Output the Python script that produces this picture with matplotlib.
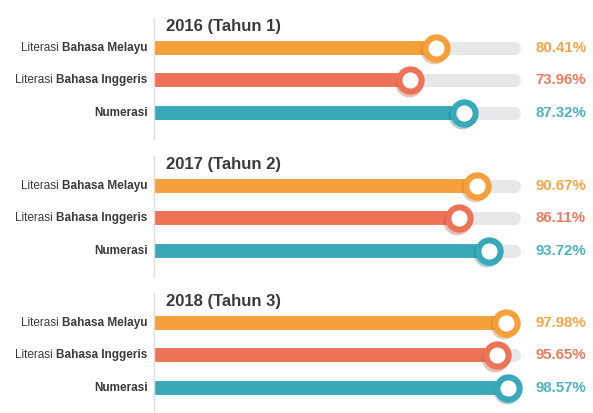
import matplotlib
matplotlib.use('Agg')
import matplotlib.pyplot as plt
import matplotlib.transforms as mtransforms

plt.rcParams["font.family"] = ["Liberation Sans", "DejaVu Sans"]

# 数据
years = ["2016 (Tahun 1)", "2017 (Tahun 2)", "2018 (Tahun 3)"]
label_prefix = ["Literasi", "Literasi", ""]
label_bold = ["Bahasa Melayu", "Bahasa Inggeris", "Numerasi"]
melayu = [80.41, 90.67, 97.98]
inggeris = [73.96, 86.11, 95.65]
numerasi = [87.32, 93.72, 98.57]

bar_colors = ["#F5A03B", "#EE7256", "#37A9B8"]
shadow_colors = ["#B87424", "#B44C37", "#1F7682"]
text_colors = ["#F3A548", "#EC7A5E", "#4DB2C2"]
track_color = "#E7E8EA"
dark = "#3A3A3A"

W, H = 593, 413
fig = plt.figure(figsize=(W / 100, H / 100), dpi=100)

panel_tops = [18, 156, 293]
panel_h = 121
ax_left = 154

for p, year in enumerate(years):
    values = [melayu[p], inggeris[p], numerasi[p]]
    ax = fig.add_axes([ax_left / W, 1 - (panel_tops[p] + panel_h) / H,
                       (W - ax_left) / W, panel_h / H])
    ax.patch.set_alpha(0)
    # 0% 在 x=116px, 100% 在 x=514px
    scale = (514 - 116) / 100.0
    ax.set_xlim((ax_left - 116) / scale, (W - 116) / scale)
    ax.set_ylim(2.8, -0.923)
    for s in ["top", "right", "bottom"]:
        ax.spines[s].set_visible(False)
    ax.spines["left"].set_color("#DDDDDD")
    ax.spines["left"].set_linewidth(1)
    ax.set_xticks([])
    ax.set_yticks([])

    # 标题
    ax.annotate(year, xy=(0, -0.66), xycoords=("axes fraction", "data"),
                xytext=(8.5, 0), textcoords="offset points",
                fontsize=12, fontweight="bold", color=dark, ha="left", va="center")

    shadow_tr = mtransforms.offset_copy(ax.transData, fig=fig, x=-1.2, y=-1.5, units="points")

    for i, v in enumerate(values):
        # 灰色底条
        ax.plot([0, 100], [i, i], color=track_color, lw=9.4,
                solid_capstyle="round", zorder=1)
        # 彩色条
        ax.plot([0, v], [i, i], color=bar_colors[i], lw=10,
                solid_capstyle="butt", zorder=2)
        # 圆环阴影 + 圆环
        ax.plot([v], [i], marker="o", ms=15.75, mew=4.25, mfc="none",
                mec=shadow_colors[i], transform=shadow_tr, zorder=3, alpha=0.35)
        ax.plot([v], [i], marker="o", ms=16, mew=4.4, mfc="white",
                mec=bar_colors[i], zorder=4)
        # 百分比
        ax.text(105.3, i, "%.2f%%" % v, fontsize=10.8, fontweight="bold",
                color=text_colors[i], ha="left", va="center")
        # 左侧标签(粗体部分 + 常规部分)
        b = ax.annotate(label_bold[i], xy=(0, i), xycoords=("axes fraction", "data"),
                        xytext=(-4.5, 0), textcoords="offset points",
                        ha="right", va="center", fontsize=8.5, fontweight="bold",
                        color=dark)
        if label_prefix[i]:
            ax.annotate(label_prefix[i], xy=(0, 0.5), xycoords=b,
                        xytext=(-2.4, 0), textcoords="offset points",
                        ha="right", va="center", fontsize=8.5, color=dark)

plt.savefig("out.png", dpi=100)
